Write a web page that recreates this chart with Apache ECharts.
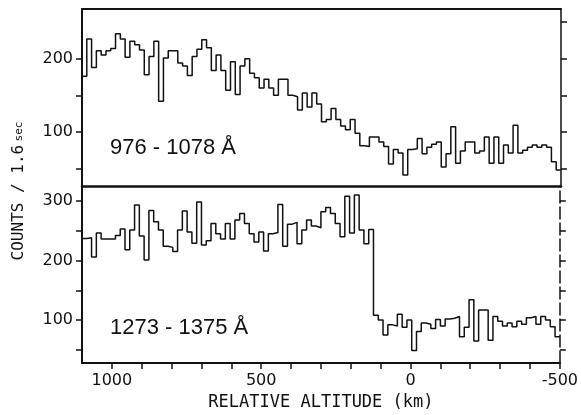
<!DOCTYPE html>
<html>
<head>
<meta charset="utf-8">
<script src="https://cdn.jsdelivr.net/npm/echarts@6/dist/echarts.min.js"></script>
<style>
  html, body { margin: 0; padding: 0; background: #fff; }
  #chart { width: 581px; height: 415px; }
</style>
</head>
<body>
<div id="chart"></div>
<script>
// Altitude bins: 16 km wide, starting at +1100 km and running down to -500 km
const ALT_START_KM = 1100;
const BIN_KM = 16;
const X_MIN = -500;
const X_MAX = 1100;

// Counts per 1.6 s, 976-1078 Å channel
const counts976 = [
  176, 227, 188, 211, 205, 211, 214, 234, 227, 202,
  224, 219, 212, 178, 203, 224, 142, 201, 211, 211,
  194, 190, 177, 203, 213, 226, 215, 184, 205, 184,
  157, 196, 151, 190, 200, 180, 174, 160, 172, 160,
  150, 172, 172, 150, 148, 130, 153, 134, 153, 138,
  114, 117, 132, 117, 108, 103, 117,  98,  81,  80,
   93,  93,  86,  80,  56,  76,  71,  41,  76,  77,
   91,  70,  79,  83,  86,  52,  70, 107,  57,  74,
   86,  86,  71,  74,  93,  57,  93,  57,  82,  71,
  109,  71,  75,  79,  82,  79,  82,  79,  59,  48
];

// Counts per 1.6 s, 1273-1375 Å channel
const counts1273 = [
  237, 238, 206, 246, 236, 236, 236, 242, 253, 218,
  251, 293, 241, 201, 284, 265, 251, 224, 222, 215,
  251, 283, 248, 229, 298, 226, 233, 262, 245, 236,
  262, 236, 268, 279, 262, 245, 231, 248, 216, 245,
  247, 294, 224, 261, 264, 228, 251, 268, 258, 255,
  282, 289, 279, 262, 240, 308, 246, 310, 251, 228,
  252, 108, 100,  75,  92,  90, 110,  88, 100,  49,
   81,  95,  93,  86, 101,  90, 102, 103, 106,  72,
   88, 134,  65, 117, 117,  66, 106,  98,  90,  95,
   89,  98,  93, 104, 106,  93, 106, 100,  89,  72
];

// Axis ticks and labels
const xTicks = [1000, 900, 800, 700, 600, 500, 400, 300, 200, 100, 0, -100, -200, -300, -400, -500];
const xLabels = [1000, 500, 0, -500];
const topRange = [26, 268];
const topLeftTicks = [50, 100, 150, 200];
const topRightTicks = [50, 100, 150, 200, 250];
const topLabels = [100, 200];
const bottomRange = [28, 325];
const bottomTicks = [50, 100, 150, 200, 250, 300];
const bottomLabels = [100, 200, 300];

const panelLabels = ['976 - 1078 Å', '1273 - 1375 Å'];
const xTitle = 'RELATIVE ALTITUDE (km)';

const INK = '#111';
const NUM_FONT = 'DejaVu Sans';
const TITLE_FONT = 'DejaVu Sans Mono';

// Histogram outline: one point per bin edge, drawn as a step line
function binEdges(counts) {
  const pts = counts.map((c, i) => [ALT_START_KM - i * BIN_KM, c]);
  pts.push([ALT_START_KM - counts.length * BIN_KM, counts[counts.length - 1]]);
  return pts;
}

const plain = v => String(v);

function xAxisBase(gridIndex, position) {
  return {
    type: 'value', gridIndex, position, min: X_MIN, max: X_MAX, inverse: true,
    splitLine: { show: false },
    axisLine: { onZero: false, lineStyle: { color: INK, width: 2 } },
    axisTick: { show: false },
    axisLabel: { show: false }
  };
}

function yAxisBase(gridIndex, position, range) {
  return {
    type: 'value', gridIndex, position, min: range[0], max: range[1],
    splitLine: { show: false },
    axisLine: { show: true, onZero: false, lineStyle: { color: INK, width: 2 } },
    axisTick: { show: true, inside: false, length: 6, lineStyle: { color: INK, width: 1.5 } },
    axisLabel: { show: false }
  };
}

const chart = echarts.init(document.getElementById('chart'), null, { renderer: 'canvas' });

const xAxes = [
  xAxisBase(0, 'bottom'),
  xAxisBase(0, 'top'),
  xAxisBase(1, 'bottom')
];
xAxes[0].axisLine.lineStyle.width = 2.5;
Object.assign(xAxes[2], {
  axisTick: { show: true, inside: false, length: 6, customValues: xTicks, lineStyle: { color: INK, width: 1.5 } },
  axisLabel: {
    show: true, customValues: xLabels, formatter: plain, margin: 10,
    color: INK, fontFamily: NUM_FONT, fontSize: 16
  },
  name: xTitle, nameLocation: 'middle', nameGap: 31,
  nameTextStyle: { color: INK, fontFamily: TITLE_FONT, fontSize: 17 }
});

const yAxes = [
  yAxisBase(0, 'left', topRange),
  yAxisBase(0, 'right', topRange),
  yAxisBase(1, 'left', bottomRange),
  yAxisBase(1, 'right', bottomRange)
];
yAxes[0].axisTick.customValues = topLeftTicks;
yAxes[0].axisLabel = { show: true, customValues: topLabels, formatter: plain, margin: 9, color: INK, fontFamily: NUM_FONT, fontSize: 16 };
yAxes[1].axisTick.customValues = topRightTicks;
yAxes[1].axisLine.lineStyle.width = 1.5;
yAxes[2].axisTick.customValues = bottomTicks;
yAxes[2].axisLabel = { show: true, customValues: bottomLabels, formatter: plain, margin: 9, color: INK, fontFamily: NUM_FONT, fontSize: 16 };
yAxes[3].axisTick.customValues = bottomTicks;
yAxes[3].axisLine.lineStyle = { color: INK, width: 1.5, type: [12, 4] };

const stepLine = (data, xi, yi) => ({
  type: 'line', xAxisIndex: xi, yAxisIndex: yi, data, step: 'end',
  symbol: 'none', clip: true,
  lineStyle: { color: INK, width: 1.5 }
});

chart.setOption({
  animation: false,
  backgroundColor: '#fff',
  grid: [
    { left: 82, top: 9, width: 479, height: 177 },
    { left: 82, top: 186, width: 479, height: 177 }
  ],
  xAxis: xAxes,
  yAxis: yAxes,
  series: [
    stepLine(binEdges(counts976), 0, 0),
    stepLine(binEdges(counts1273), 2, 2)
  ],
  graphic: [
    {
      type: 'text', x: 110, y: 148,
      style: { text: panelLabels[0], font: '22px "Liberation Sans"', fill: INK, align: 'left', verticalAlign: 'middle' }
    },
    {
      type: 'text', x: 110, y: 328,
      style: { text: panelLabels[1], font: '22px "Liberation Sans"', fill: INK, align: 'left', verticalAlign: 'middle' }
    },
    {
      type: 'text', x: 19, y: 191, rotation: Math.PI / 2,
      style: {
        text: '{a|COUNTS / 1.6} {b|sec}',
        rich: {
          a: { font: '16px "DejaVu Sans Mono"', fill: INK },
          b: { font: '11px "DejaVu Sans Mono"', fill: INK }
        },
        fill: INK, align: 'center', verticalAlign: 'middle'
      }
    }
  ]
});
</script>
</body>
</html>
